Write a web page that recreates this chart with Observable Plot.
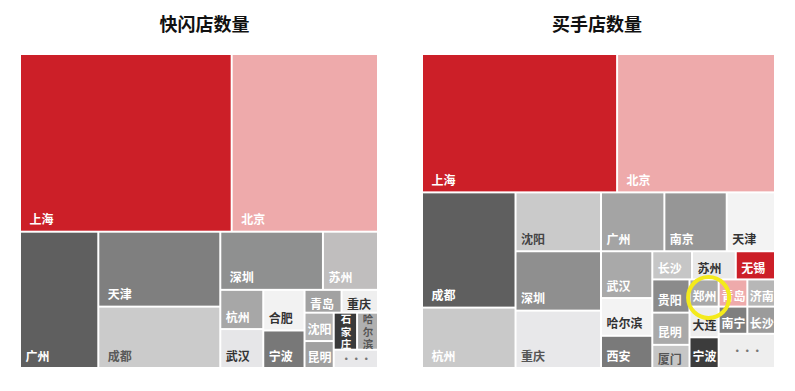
<!DOCTYPE html>
<html>
<head>
<meta charset="utf-8">
<script src="https://cdn.jsdelivr.net/npm/d3@7"></script>
<script src="https://cdn.jsdelivr.net/npm/@observablehq/plot@0.6"></script>
<style>
  html, body { margin: 0; padding: 0; background: #fff; }
  #wrap { display: flex; width: 795px; height: 391px; }
  #wrap > svg { flex: none; font-family: "Noto Sans CJK SC", sans-serif; }
</style>
</head>
<body>
<div id="wrap"></div>
<script>
// ---------- Data: 快闪店数量 (pop-up stores) ----------
const flashTitle = "快闪店数量";
const flashCities = ["上海","北京","广州","天津","成都","深圳","苏州","杭州","武汉","合肥","宁波","青岛","重庆","沈阳","昆明","石家庄","哈尔滨","…"];
const flashCounts = [37153,25681,10542,9029,7393,5896,3162,1665,1652,1656,1529,835,822,818,777,854,765,801];
// nesting of the tiles (indices into flashCities); levels alternate rows / columns
const flashLayout = [[0,1],[2,[3,4],[[5,6],[[7,8],[9,10],[[11,12],[[13,14],[[15,16],17]]]]]]];

// ---------- Data: 买手店数量 (buyer stores) ----------
const buyerTitle = "买手店数量";
const buyerCities = ["上海","北京","成都","杭州","沈阳","深圳","重庆","广州","南京","天津","武汉","哈尔滨","西安","长沙","苏州","无锡","贵阳","昆明","厦门","郑州","大连","宁波","青岛","济南","南宁","长沙","…"];
const buyerCounts = [26675,21588,10649,5580,4973,5015,4845,3686,3627,2808,2372,1913,1632,1106,1218,1092,1221,1184,851,783,885,885,770,743,770,743,1904];
const buyerLayout = [[0,1],[[2,3],[4,5,6],[[7,8,9],[[10,11,12],[[13,14,15],[[16,17,18],[19,20,21],[[22,23],[24,25],26]]]]]]];
const buyerHighlight = "郑州";

// ---------- Styles (kept apart from the data) ----------
const flashFill = ["#cc1f28","#eeaaab","#5f5f5f","#7f7f7f","#cbcbcb","#8f9090","#c0bebe","#a7a7a7","#e6e6e8","#f2f2f2","#787878","#a2a2a2","#efefef","#b2b2b2","#a0a0a0","#3a3a3a","#b0b0b0","#e8e8ea"];
const flashInk  = ["#fff","#fff","#fff","#fff","#5a5a5a","#fff","#fff","#fff","#333","#333","#fff","#fff","#333","#fff","#fff","#fff","#555","#777"];
const buyerFill = ["#cc1f28","#eeaaab","#5f5f5f","#c9c9c9","#cacaca","#8f8f8f","#e8e8ea","#a4a4a4","#969696","#f3f3f3","#a9a9a9","#f3f3f3","#7a7a7a","#c6c6c6","#e9e9e9","#cc1f28","#8b8b8b","#a9a9a9","#c6c6c6","#a9a9a9","#ededed","#3c3c3c","#eeaaab","#b7b7b7","#7f7f7f","#9b9b9b","#eeeeee"];
const buyerInk  = ["#fff","#fff","#fff","#fff","#444","#fff","#555","#fff","#fff","#333","#fff","#333","#fff","#fff","#333","#fff","#fff","#fff","#555","#fff","#333","#fff","#fff","#fff","#fff","#fff","#777"];

const HEIGHT = 391, MT = 55, MB = 24;

function layoutCells(cities, counts, layout, W, H) {
  const root = d3.hierarchy(layout, d => Array.isArray(d) ? d : null)
    .sum(d => Array.isArray(d) ? 0 : counts[d]);
  d3.treemap()
    .size([W, H])
    .paddingInner(2)
    .round(false)
    .tile((n, x0, y0, x1, y1) => (n.depth % 2 ? d3.treemapDice : d3.treemapSlice)(n, x0, y0, x1, y1))(root);
  return root.leaves().map(n => {
    const i = n.data, city = cities[i];
    const w = n.x1 - n.x0, h = n.y1 - n.y0;
    const cx = (n.x0 + n.x1) / 2, cy = (n.y0 + n.y1) / 2;
    const padY = Math.max(2, Math.min(7, (h - 14) / 2));
    let lx, ly, anchor, line, label = city, fs = 12, lh = 1;
    if (city === "…") {
      lx = cx; ly = cy; anchor = "middle"; line = "middle"; label = "···"; fs = 10;
    } else if (city.length >= 3 && w < 30) {
      lx = cx; ly = cy; anchor = "middle"; line = "middle"; label = city.split("").join("\n"); fs = 10.5; lh = 1.17;
    } else if (w < 34) {
      lx = cx; ly = n.y1 - padY; anchor = "middle"; line = "bottom";
    } else {
      lx = n.x0 + (w > 90 ? 8 : 4); ly = n.y1 - padY; anchor = "start"; line = "bottom";
    }
    return {i, city, value: counts[i], x0: n.x0, x1: n.x1, y0: n.y0, y1: n.y1, cx, cy, lx, ly, anchor, line, label, fs, lh};
  });
}

function panel({title, cities, counts, layout, fills, inks, width, marginLeft, marginRight, titleDx, highlight}) {
  const W = width - marginLeft - marginRight, H = HEIGHT - MT - MB;
  const cells = layoutCells(cities, counts, layout, W, H);
  cells.forEach(d => d.ink = inks[d.i]);
  const groups = d3.groups(cells, d => `${d.anchor}|${d.line}|${d.ink}|${d.fs}|${d.lh}`);
  const textMarks = groups.map(([k, arr]) => {
    const [anchor, line, ink, fs, lh] = k.split("|");
    return Plot.text(arr, {
      x: "lx", y: "ly", text: "label",
      textAnchor: anchor, lineAnchor: line, lineHeight: +lh,
      fill: ink, fontSize: +fs, fontWeight: "bold",
      fontFamily: "Noto Sans CJK SC"
    });
  });
  const marks = [
    Plot.rect(cells, {x1: "x0", x2: "x1", y1: "y0", y2: "y1", fill: "i"}),
    ...textMarks,
    Plot.text([title], {
      text: d => d, frameAnchor: "top", dy: -30, dx: titleDx,
      lineAnchor: "middle", fontSize: 18, fontWeight: "bold",
      fill: "#111", fontFamily: "Noto Sans CJK SC"
    })
  ];
  if (highlight) {
    marks.push(Plot.dot(cells.filter(d => d.city === highlight), {
      x: "cx", y: "cy", r: 20.5, dx: 4, dy: 4,
      stroke: "#f4ea1c", strokeWidth: 4, fill: "none"
    }));
  }
  return Plot.plot({
    width, height: HEIGHT,
    marginLeft, marginRight, marginTop: MT, marginBottom: MB,
    x: {domain: [0, W], axis: null},
    y: {domain: [0, H], reverse: true, axis: null},
    color: {type: "ordinal", domain: cities.map((c, i) => i), range: fills},
    marks
  });
}

const wrap = document.getElementById("wrap");
wrap.append(panel({
  title: flashTitle, cities: flashCities, counts: flashCounts, layout: flashLayout,
  fills: flashFill, inks: flashInk, width: 398, marginLeft: 21, marginRight: 21, titleDx: 5
}));
wrap.append(panel({
  title: buyerTitle, cities: buyerCities, counts: buyerCounts, layout: buyerLayout,
  fills: buyerFill, inks: buyerInk, width: 397, marginLeft: 25, marginRight: 21, titleDx: -2,
  highlight: buyerHighlight
}));
</script>
</body>
</html>
